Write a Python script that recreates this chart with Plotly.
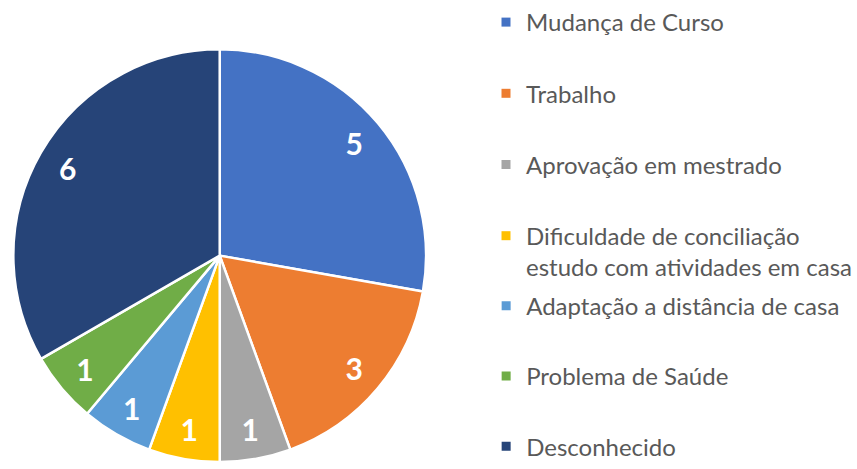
import plotly.graph_objects as go

W, H = 857, 469

motivos = [
    "Mudança de Curso",
    "Trabalho",
    "Aprovação em mestrado",
    "Dificuldade de conciliação<br>estudo com atividades em casa",
    "Adaptação a distância de casa",
    "Problema de Saúde",
    "Desconhecido",
]
quantidade = [5, 3, 1, 1, 1, 1, 6]
cores = ["#4472C4", "#ED7D31", "#A5A5A5", "#FFC000", "#5B9BD5", "#70AD47", "#264478"]

dominio = dict(x=[11.5 / W, 430.5 / W], y=[0, 1 - 50 / H])

fig = go.Figure()

# pizza principal (sem texto)
fig.add_trace(go.Pie(
    labels=motivos, values=quantidade, sort=False, direction="clockwise", rotation=0,
    marker=dict(colors=cores, line=dict(color="white", width=2.5)),
    textinfo="none", domain=dominio, showlegend=False,
))

# anel transparente por cima so para posicionar os rotulos mais para fora
fig.add_trace(go.Pie(
    labels=motivos, values=quantidade, sort=False, direction="clockwise", rotation=0,
    hole=0.7, marker=dict(colors=["rgba(0,0,0,0)"] * len(cores)),
    textinfo="value", textposition="inside", insidetextorientation="horizontal",
    textfont=dict(family="Lato", size=30, color="white", weight="bold"),
    domain=dominio, showlegend=False, hoverinfo="skip",
))

# legenda feita com traços vazios para controlar o espaçamento
for i, (m, c) in enumerate(zip(motivos, cores)):
    fig.add_trace(go.Scatter(
        x=[None], y=[None], mode="markers", name=m, legendgroup=m,
        legend="legend" if i < 4 else "legend2",
        marker=dict(symbol="square", size=9, color=c),
    ))

leg = dict(
    x=489 / W, xanchor="left", yanchor="top",
    font=dict(family="Lato", size=24, color="#595959"),
    valign="top", itemclick=False, bgcolor="rgba(0,0,0,0)",
)

fig.update_layout(
    width=W, height=H,
    margin=dict(l=0, r=0, t=0, b=0),
    paper_bgcolor="white", plot_bgcolor="white",
    xaxis=dict(visible=False), yaxis=dict(visible=False),
    legend=dict(leg, y=1, tracegroupgap=37),
    legend2=dict(leg, y=1 - 288 / H, tracegroupgap=36),
)

fig.write_html("out.html", config={"displayModeBar": False},
               post_script="document.body.style.margin='0';")
